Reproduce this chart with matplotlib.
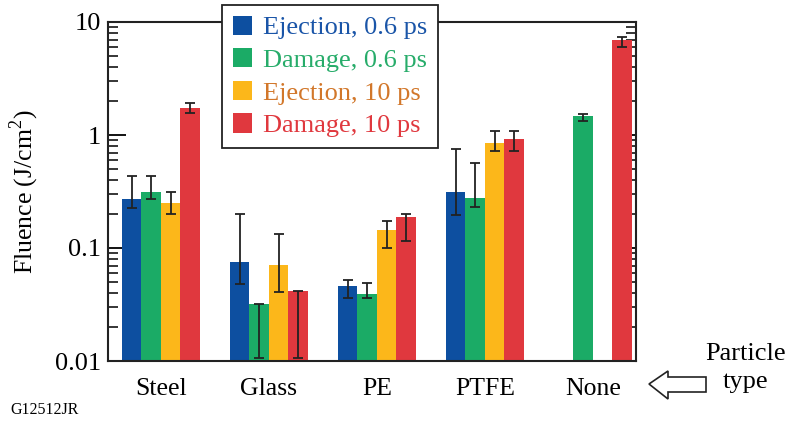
import numpy as np
import matplotlib
matplotlib.use("Agg")
import matplotlib.pyplot as plt
from matplotlib.patches import Patch, Polygon
from matplotlib.ticker import LogLocator, FixedLocator, NullFormatter

plt.rcParams['font.family'] = ['Liberation Serif', 'DejaVu Serif']
plt.rcParams['mathtext.fontset'] = 'custom'
plt.rcParams['mathtext.rm'] = 'Liberation Serif'

# particle types and measured threshold fluences (J/cm^2)
particles = ["Steel", "Glass", "PE", "PTFE", "None"]
series = ["Ejection, 0.6 ps", "Damage, 0.6 ps", "Ejection, 10 ps", "Damage, 10 ps"]

ej_06 = [0.27, 0.075, 0.046, 0.313, np.nan]
dm_06 = [0.31, 0.032, 0.039, 0.277, 1.47]
ej_10 = [0.25, 0.071, 0.144, 0.843, np.nan]
dm_10 = [1.73, 0.042, 0.188, 0.92, 6.93]

# error bar limits (low, high)
ej_06_lo = [0.226, 0.048, 0.036, 0.197, np.nan]
ej_06_hi = [0.43, 0.20, 0.052, 0.757, np.nan]
dm_06_lo = [0.27, 0.0106, 0.036, 0.232, 1.34]
dm_06_hi = [0.43, 0.032, 0.049, 0.565, 1.54]
ej_10_lo = [0.20, 0.041, 0.10, 0.72, np.nan]
ej_10_hi = [0.31, 0.134, 0.172, 1.09, np.nan]
dm_10_lo = [1.57, 0.0106, 0.115, 0.72, 6.05]
dm_10_hi = [1.92, 0.042, 0.20, 1.09, 7.33]

values = [ej_06, dm_06, ej_10, dm_10]
lows = [ej_06_lo, dm_06_lo, ej_10_lo, dm_10_lo]
highs = [ej_06_hi, dm_06_hi, ej_10_hi, dm_10_hi]

bar_colors = ["#0d4fa0", "#1bab66", "#fcb71a", "#e0383e"]
text_colors = ["#1a55a8", "#27ac6a", "#d2772a", "#e0383e"]

fig = plt.figure(figsize=(7.88, 4.23), dpi=100)
ax = fig.add_axes([108/788, 62/423, 528/788, 339/423])

x = np.arange(len(particles))
w = 0.18
for i in range(4):
    v = np.array(values[i])
    lo = v - np.array(lows[i])
    hi = np.array(highs[i]) - v
    pos = x + (i - 1.5) * w
    ax.bar(pos, v - 0.01, w, bottom=0.01, color=bar_colors[i], zorder=2)
    ax.errorbar(pos, v, yerr=[lo, hi], fmt='none', ecolor='#222222',
                elinewidth=1.3, capsize=3.5, capthick=1.3, zorder=3)

ax.set_yscale('log')
ax.set_ylim(0.01, 10)
ax.set_xlim(-0.49, 4.40)
ax.set_xticks(x)
ax.set_xticklabels(particles, fontsize=18.5)
ax.tick_params(axis='x', length=0, pad=12)

ax.yaxis.set_major_locator(FixedLocator([0.01, 0.1, 1, 10]))
ax.yaxis.set_minor_locator(LogLocator(base=10, subs=np.arange(2, 10)))
ax.yaxis.set_minor_formatter(NullFormatter())
ax.set_yticklabels(["0.01", "0.1", "1", "10"])
ax.tick_params(axis='y', which='major', direction='in', length=13, width=1.3,
               right=True, labelsize=19, pad=5)
ax.tick_params(axis='y', which='minor', direction='in', length=7, width=1.1,
               right=True)
for s in ax.spines.values():
    s.set_linewidth(1.5)
    s.set_color('#222222')

ax.set_ylabel("Fluence (J/cm$^{2}$)", fontsize=18.5, labelpad=10)

handles = [Patch(facecolor=c) for c in bar_colors]
leg = fig.legend(handles, series, loc='upper left',
                 bbox_to_anchor=(222/788, 1 - 5/423), fontsize=19,
                 labelcolor=text_colors, handlelength=0.75, handleheight=0.75,
                 handletextpad=0.4, borderpad=0.4, labelspacing=0.33,
                 borderaxespad=0, fancybox=False, framealpha=1,
                 edgecolor='#222222')
leg.get_frame().set_linewidth(1.3)

# hollow arrow pointing at the category labels
px = lambda x0, y0: ((x0) / 100, (423 - y0) / 100)
arrow = Polygon([px(649, 384), px(668, 371), px(668, 377), px(706, 377),
                 px(706, 392), px(668, 392), px(668, 399)], closed=True,
                facecolor='white', edgecolor='#222222', linewidth=1.2,
                transform=fig.dpi_scale_trans)
fig.patches.append(arrow)
fig.text(746/788, 1 - 368/423, "Particle\ntype", ha='center', va='center',
         fontsize=19, linespacing=1.35)

fig.text(10/788, 1 - 410/423, "G12512JR", ha='left', va='center', fontsize=11.5)

fig.savefig("out.png", dpi=100)
